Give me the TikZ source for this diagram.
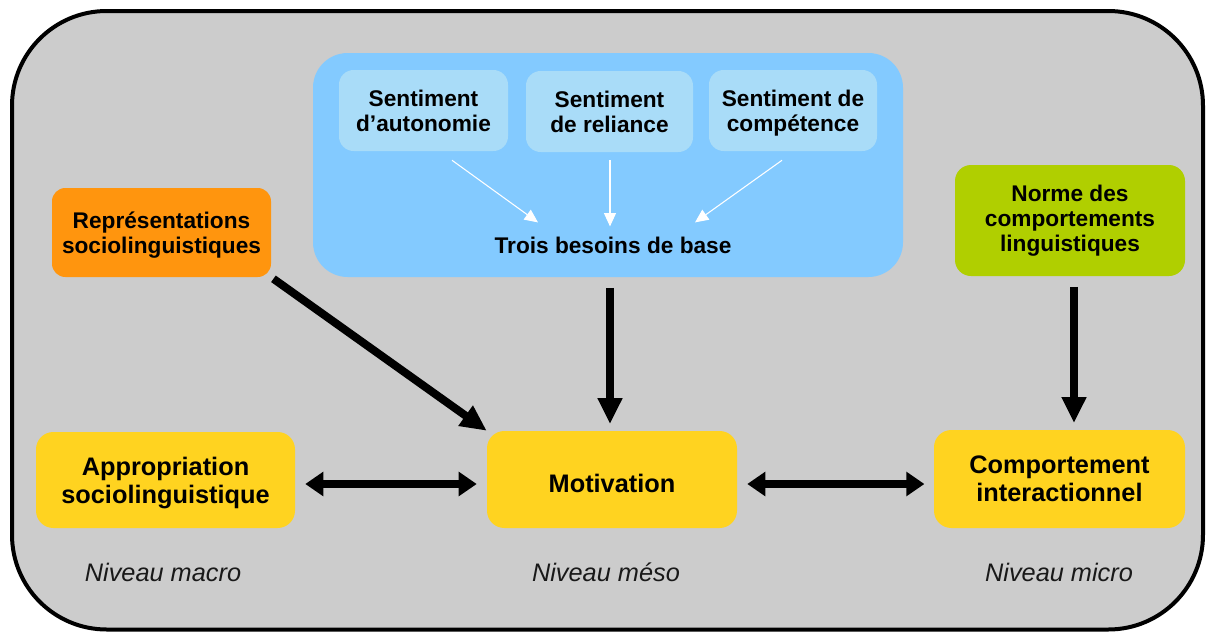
\documentclass[tikz,border=0pt]{standalone}
\usepackage{fontspec}
\setmainfont{Liberation Sans}
\usetikzlibrary{arrows.meta,calc}
\definecolor{framegray}{HTML}{CCCCCC}
\definecolor{bigblue}{HTML}{83CAFF}
\definecolor{smallblue}{HTML}{A9DCF8}
\definecolor{orangebox}{HTML}{FF950E}
\definecolor{greenbox}{HTML}{B0CF00}
\definecolor{yellowbox}{HTML}{FFD320}
\tikzset{
  basebox/.style={inner sep=0pt, align=center, text=black},
  smallfont/.style={font=\bfseries\fontsize{17}{18.75}\selectfont},
  largefont/.style={font=\bfseries\fontsize{19}{21}\selectfont},
  needbox/.style={basebox, smallfont, fill=smallblue, rounded corners=11pt, minimum height=60.75pt},
  yellowstyle/.style={basebox, largefont, fill=yellowbox, rounded corners=13pt},
  levellabel/.style={inner sep=0pt, font=\itshape\fontsize{19}{21}\selectfont, text=black!90},
  bigarrow/.style={line width=6pt, -{Triangle[length=19.5pt,width=17.5pt]}},
  dblarrow/.style={line width=6pt, {Triangle[length=13.5pt,width=17.5pt]}-{Triangle[length=13.5pt,width=17.5pt]}},
  whitearrow/.style={draw=white, line width=0.8pt, -{Triangle[length=10pt,width=9pt]}}
}
\begin{document}
\begin{tikzpicture}[x=0.75pt,y=-0.75pt]
\useasboundingbox (0,0) rectangle (1208,632);
% outer frame
\draw[line width=3pt, fill=framegray, rounded corners=71pt] (12,11) rectangle (1203,629.5);
% blue container
\node[fill=bigblue, rounded corners=26pt, minimum width=442.5pt, minimum height=168pt, inner sep=0pt] (blue) at (608,165) {};
\node[needbox, minimum width=126.75pt] (s1) at (423.5,110.5) {Sentiment\\d’autonomie};
\node[needbox, minimum width=125.25pt] (s2) at (609.5,111.5) {Sentiment\\de reliance};
\node[needbox, minimum width=126pt] (s3) at (793,110.5) {Sentiment de\\com\smash{p}étence};
\node[basebox, smallfont] (trois) at (613,245) {Trois besoins de base};
% white arrows
\draw[whitearrow] ($(s1.south)+(28.5,9)$) -- ($(trois.north)+(-75,-14)$);
\draw[whitearrow] ($(s2.south)+(0.5,8)$) -- ($(trois.north)+(-3,-10)$);
\draw[whitearrow] ($(s3.south)+(-11,9)$) -- ($(trois.north)+(82,-14)$);
% side boxes
\node[basebox, smallfont, fill=orangebox, rounded corners=10pt, minimum width=164.25pt, minimum height=66.75pt] (rep) at (161.5,232.5) {Représentations\\sociolin\smash{g}uisti\smash{q}ues};
\node[basebox, smallfont, fill=greenbox, rounded corners=12pt, minimum width=172.5pt, minimum height=83.25pt] (norme) at (1070,220.5) {Norme des\\comportements\\linguistiques};
% bottom boxes
\node[yellowstyle, minimum width=194.25pt, minimum height=72pt] (appr) at (165.5,480) {Appropriation\\sociolin\smash{g}uisti\smash{q}ue};
\node[yellowstyle, minimum width=187.5pt, minimum height=72.75pt] (motiv) at (612,479.5) {\raisebox{0pt}[19pt][0pt]{Motivation}};
\node[yellowstyle, minimum width=188.25pt, minimum height=73.5pt] (comp) at (1059.5,479) {Comportement\\interactionnel};
% level labels
\node[levellabel] (macro) at (163,572) {Niveau macro};
\node[levellabel] (meso) at (606,572) {Niveau méso};
\node[levellabel] (micro) at (1059,572) {Niveau micro};
% black arrows
\draw[bigarrow, shorten <=2pt] (rep.south east) -- (motiv.north west);
\draw[bigarrow, shorten <=8pt, shorten >=5pt] ($(blue.south)+(2,0)$) -- ($(motiv.north)+(-2,0)$);
\draw[bigarrow, shorten <=8pt, shorten >=5pt] ($(norme.south)+(4,0)$) -- ($(norme.south |- comp.north)+(4,0)$);
\draw[dblarrow, shorten <=7.5pt, shorten >=7.5pt] ($(appr.east)+(0,4)$) -- ($(motiv.west)+(0,4.5)$);
\draw[dblarrow, shorten <=7.5pt, shorten >=7pt] ($(motiv.east)+(0,4.5)$) -- ($(comp.west)+(0,5)$);
\end{tikzpicture}
\end{document}
